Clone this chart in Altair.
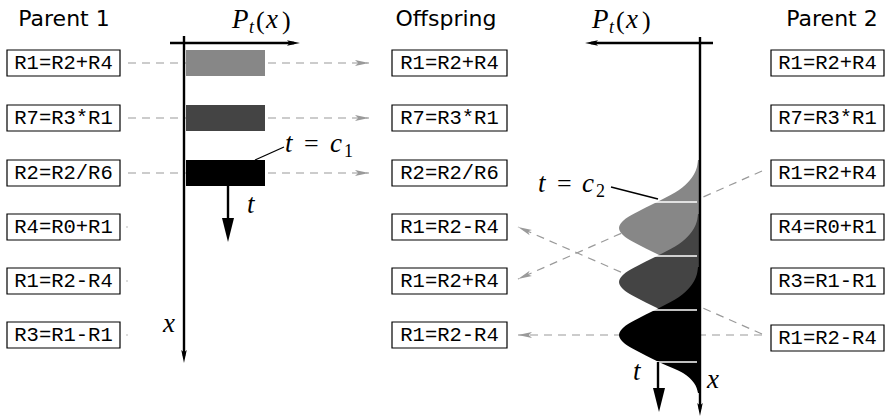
import math
import altair as alt
import pandas as pd

W, H = 888, 418

# ---------------- data ----------------
row_y = [63, 118, 173, 227, 281, 335]
parent2_y = [63, 118, 173, 227, 281, 338]
parent1_ops = ["R1=R2+R4", "R7=R3*R1", "R2=R2/R6", "R4=R0+R1", "R1=R2-R4", "R3=R1-R1"]
offspring_ops = ["R1=R2+R4", "R7=R3*R1", "R2=R2/R6", "R1=R2-R4", "R1=R2+R4", "R1=R2-R4"]
parent2_ops = ["R1=R2+R4", "R7=R3*R1", "R1=R2+R4", "R4=R0+R1", "R3=R1-R1", "R1=R2-R4"]
column_titles = ["Parent 1", "Offspring", "Parent 2"]
title_x = [64, 446, 832]
box_left = [7, 392, 771]
box_right = [120, 507, 884]

bar_colors = ["#878787", "#444444", "#000000"]
bar_x = [186, 265]

# density bumps P_t(x) of parent 2 (left edge of each filled bump)
bump1_y = [160, 170, 180, 190, 200, 210, 220, 228, 236, 246, 256, 266, 276, 286, 296]
bump1_x = [698, 696, 690, 679, 661, 641, 624, 619, 624, 641, 661, 679, 690, 696, 698]
bump2_y = [214, 224, 234, 244, 254, 264, 274, 282, 290, 300, 310, 320, 330, 340, 350]
bump2_x = [698, 696, 690, 679, 661, 641, 624, 619, 624, 641, 661, 679, 690, 696, 698]
bump3_y = [267, 277, 287, 297, 307, 317, 327, 335, 343, 353, 363, 373, 383, 393]
bump3_x = [698, 696, 690, 679, 661, 641, 624, 619, 624, 641, 661, 683, 694, 698]
axis2_x = 699
white_cut_y = [202, 256, 310, 362]

# ---------------- helpers ----------------
XS = alt.Scale(domain=[0, W], nice=False, zero=False)
YS = alt.Scale(domain=[0, H], nice=False, zero=False, reverse=True)


def X(f="x", **kw):
    return alt.X(f"{f}:Q", scale=XS, axis=None, **kw)


def Y(f="y", **kw):
    return alt.Y(f"{f}:Q", scale=YS, axis=None, **kw)


def segs(rows, **mark):
    df = pd.DataFrame(rows, columns=["x", "y", "x2", "y2"])
    return alt.Chart(df).mark_rule(**mark).encode(
        x=X(), y=Y(), x2=alt.X2("x2:Q"), y2=alt.Y2("y2:Q"))


def heads(rows, shape, size, color):
    df = pd.DataFrame(rows, columns=["x", "y", "angle"])
    return alt.Chart(df).mark_point(shape=shape, size=size, filled=True,
                                    color=color, opacity=1, strokeWidth=0).encode(
        x=X(), y=Y(), angle=alt.Angle("angle:Q", scale=None))


def texts(rows, **mark):
    df = pd.DataFrame(rows, columns=["x", "y", "t"])
    return alt.Chart(df).mark_text(**mark).encode(x=X(), y=Y(), text="t:N")


def ang(x0, y0, x1, y1):
    return math.degrees(math.atan2(y1 - y0, x1 - x0)) % 360


layers = []
GRAY = "#9a9a9a"
DASH = [8, 6]

# ---------------- dashed gray arrows ----------------
dash_rows = []
gray_heads = []
for i in range(3):
    dash_rows.append([128, row_y[i], 369, row_y[i]])
    gray_heads.append([369, row_y[i], 0])
cross_start = [(762, 171), (762, 334), (762, 335)]
cross_tip = [(518, 279), (518, 227), (518, 335)]
for (sx, sy), (tx, ty) in zip(cross_start, cross_tip):
    dash_rows.append([sx, sy, tx, ty])
    gray_heads.append([tx, ty, ang(sx, sy, tx, ty)])
layers.append(segs(dash_rows, color=GRAY, strokeWidth=1.2, strokeDash=DASH))
layers.append(segs([[126, row_y[i], 128, row_y[i]] for i in range(3, 6)],
                   color="#bbbbbb", strokeWidth=1))
layers.append(heads(gray_heads, "M0,0L-2,-0.42L-1.55,0L-2,0.42Z", 196, GRAY))

# ---------------- boxes ----------------
box_rows = []
for c, ops in enumerate([parent1_ops, offspring_ops, parent2_ops]):
    ys_ = parent2_y if c == 2 else row_y
    for op, yy in zip(ops, ys_):
        box_rows.append([box_left[c], yy - 13, box_right[c], yy + 13,
                         (box_left[c] + box_right[c]) / 2, yy, op])
bdf = pd.DataFrame(box_rows, columns=["x", "y", "x2", "y2", "cx", "cy", "t"])
layers.append(alt.Chart(bdf).mark_rect(fill="white", stroke="black", strokeWidth=1.2).encode(
    x=X(), y=Y(), x2=alt.X2("x2:Q"), y2=alt.Y2("y2:Q")))
layers.append(alt.Chart(bdf).mark_text(font="Liberation Mono", fontSize=20.5,
                                       align="center", baseline="middle",
                                       color="black").encode(
    x=X("cx"), y=Y("cy"), text="t:N"))

# ---------------- parent 1 bars ----------------
bars = pd.DataFrame({"x": [bar_x[0]] * 3, "x2": [bar_x[1]] * 3,
                     "y": [v - 13 for v in row_y[:3]], "y2": [v + 13 for v in row_y[:3]],
                     "c": bar_colors})
layers.append(alt.Chart(bars).mark_rect().encode(
    x=X(), y=Y(), x2=alt.X2("x2:Q"), y2=alt.Y2("y2:Q"),
    color=alt.Color("c:N", scale=None)))

# ---------------- parent 2 density bumps ----------------
for by, bx, col in [(bump1_y, bump1_x, bar_colors[0]),
                    (bump2_y, bump2_x, bar_colors[1]),
                    (bump3_y, bump3_x, bar_colors[2])]:
    df = pd.DataFrame({"y": by, "x": bx, "x0": [axis2_x] * len(by)})
    layers.append(alt.Chart(df).mark_area(orient="horizontal", interpolate="monotone",
                                          color=col, fill=col, opacity=1, fillOpacity=1).encode(
        y=Y(), x=X(stack=None), x2=alt.X2("x0:Q")))
layers.append(segs([[652, v, 697, v] for v in white_cut_y], color="white", strokeWidth=1.6))

# ---------------- axes and t arrows ----------------
layers.append(segs([[184, 36, 184, 356], [170, 43, 294, 43],
                    [700, 37, 700, 409], [713, 43, 591, 43],
                    [228, 186, 228, 222], [658, 362, 658, 392]],
                   color="black", strokeWidth=2.4))
layers.append(heads([[184, 363, 90], [300, 43, 0], [700, 416, 90], [585, 43, 180]],
                    "M0,0L-2,-0.42L-1.6,0L-2,0.42Z", 169, "black"))
layers.append(heads([[228, 242, 90], [659, 412, 90]], "M0,0L-2,-0.5L-2,0.5Z", 576, "black"))

# leader lines
layers.append(segs([[255, 160, 284, 147], [611, 187, 658, 199]],
                   color="black", strokeWidth=1.3))

# ---------------- texts ----------------
layers.append(texts([[title_x[i], 26, column_titles[i]] for i in range(3)],
                    font="DejaVu Sans", fontSize=22, align="center",
                    baseline="alphabetic", color="black"))
SERIF = "Liberation Serif"
italic_big = [[232, 28, "P"], [266, 28, "x"], [592, 28, "P"], [626, 28, "x"],
              [285, 152, "t"], [330, 152, "c"], [538, 192, "t"], [582, 192, "c"],
              [247, 213, "t"], [633, 380, "t"], [163, 332, "x"], [707, 388, "x"]]
layers.append(texts(italic_big, font=SERIF, fontSize=27, fontStyle="italic",
                    align="left", baseline="alphabetic", color="black"))
upright_big = [[256, 29, "("], [282, 29, ")"], [616, 29, "("], [642, 29, ")"],
               [304, 152, "="], [557, 192, "="]]
layers.append(texts(upright_big, font=SERIF, fontSize=26, align="left",
                    baseline="alphabetic", color="black"))
layers.append(texts([[249, 33, "t"], [609, 33, "t"]], font=SERIF, fontSize=18,
                    fontStyle="italic", align="left", baseline="alphabetic", color="black"))
layers.append(texts([[344, 157, "1"], [596, 197, "2"]], font=SERIF, fontSize=18,
                    align="left", baseline="alphabetic", color="black"))

chart = alt.layer(*layers).properties(
    width=W, height=H, padding=0,
    autosize=alt.AutoSizeParams(type="none"),
    background="white",
).configure_view(stroke=None)

chart.save("out.html", embed_options={"renderer": "svg", "actions": False})
